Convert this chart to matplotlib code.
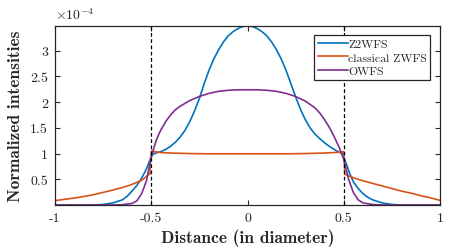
import numpy as np
import matplotlib
matplotlib.use('Agg')
import matplotlib.pyplot as plt

plt.rcParams['font.family'] = 'cmr10'
plt.rcParams['mathtext.fontset'] = 'cm'
plt.rcParams['axes.unicode_minus'] = False

# intensities in units of 1e-4
x_z2 = [-1.0, -0.8, -0.75, -0.7, -0.65, -0.625, -0.6, -0.575, -0.55, -0.525, -0.515, -0.5, -0.49,
        -0.475, -0.45, -0.425, -0.4, -0.375, -0.35, -0.325, -0.3, -0.275, -0.25, -0.225, -0.2,
        -0.175, -0.15, -0.125, -0.1, -0.075, -0.05, -0.025, 0.0,
        0.025, 0.05, 0.075, 0.1, 0.125, 0.15, 0.175, 0.2, 0.225, 0.25, 0.275, 0.3, 0.325, 0.35,
        0.375, 0.4, 0.425, 0.45, 0.475, 0.49, 0.5, 0.515, 0.53, 0.55, 0.575, 0.6, 0.625, 0.65,
        0.7, 0.75, 0.8, 1.0]
y_z2 = [0.0, 0.0, 0.01, 0.04, 0.1, 0.17, 0.27, 0.38, 0.52, 0.7, 0.8, 0.94, 0.99,
        1.01, 1.04, 1.08, 1.14, 1.22, 1.32, 1.45, 1.62, 1.83, 2.07, 2.36, 2.62,
        2.84, 3.02, 3.17, 3.29, 3.37, 3.43, 3.47, 3.48,
        3.47, 3.43, 3.37, 3.29, 3.17, 3.02, 2.84, 2.62, 2.36, 2.1, 1.86, 1.66, 1.5, 1.38,
        1.29, 1.21, 1.14, 1.08, 1.03, 1.0, 0.93, 0.78, 0.62, 0.45, 0.32, 0.22, 0.15, 0.1,
        0.04, 0.01, 0.0, 0.0]

x_zw = [-1.0, -0.95, -0.9, -0.85, -0.8, -0.75, -0.7, -0.65, -0.6, -0.55, -0.51, -0.506, -0.505,
        -0.501, -0.5, -0.49, -0.45, -0.4, -0.3, -0.2, 0.0, 0.2, 0.3, 0.4, 0.45, 0.49, 0.499,
        0.5, 0.503, 0.505, 0.51, 0.55, 0.6, 0.66, 0.7, 0.75, 0.8, 0.85, 0.9, 0.95, 1.0]
y_zw = [0.085, 0.11, 0.135, 0.165, 0.2, 0.245, 0.29, 0.34, 0.4, 0.48, 0.6, 0.61, 0.88,
        0.88, 1.05, 1.04, 1.02, 1.01, 1.0, 0.995, 0.995, 0.995, 1.0, 1.01, 1.02, 1.03, 1.04,
        0.9, 0.9, 0.6, 0.59, 0.53, 0.47, 0.41, 0.37, 0.32, 0.27, 0.23, 0.18, 0.14, 0.09]

x_ow = [-1.0, -0.7, -0.65, -0.6, -0.575, -0.55, -0.525, -0.51, -0.5, -0.49, -0.475, -0.46, -0.45,
        -0.425, -0.4, -0.375, -0.35, -0.3, -0.25, -0.2, -0.15, -0.1, -0.05, 0.0,
        0.05, 0.1, 0.15, 0.2, 0.25, 0.3, 0.35, 0.375, 0.4, 0.425, 0.45, 0.475, 0.49, 0.5, 0.51,
        0.525, 0.55, 0.575, 0.6, 0.65, 0.7, 1.0]
y_ow = [0.0, 0.0, 0.005, 0.03, 0.08, 0.22, 0.47, 0.75, 0.92, 1.06, 1.25, 1.38, 1.46,
        1.62, 1.75, 1.85, 1.92, 2.03, 2.11, 2.17, 2.21, 2.23, 2.24, 2.24,
        2.24, 2.23, 2.21, 2.17, 2.11, 2.02, 1.89, 1.79, 1.66, 1.51, 1.33, 1.13, 0.99, 0.88, 0.74,
        0.5, 0.24, 0.1, 0.04, 0.01, 0.0, 0.0]

xticks = [-1, -0.5, 0, 0.5, 1]
xticklabels = ['-1', '-0.5', '0', '0.5', '1']
yticks = [0.5, 1, 1.5, 2, 2.5, 3]
yticklabels = ['0.5', '1', '1.5', '2', '2.5', '3']

dark = '#262626'
fig = plt.figure(figsize=(4.55, 2.53), dpi=100)
ax = fig.add_axes([0.1209, 0.1858, 0.8462, 0.7075])

ax.plot(x_z2, y_z2, color='#0072BD', lw=1.2, label='Z2WFS')
ax.plot(x_zw, y_zw, color='#D95319', lw=1.2, label='classical ZWFS')
ax.plot(x_ow, y_ow, color='#7E2F8E', lw=1.2, label='OWFS')
ax.axvline(-0.5, color='k', ls='--', lw=0.9, dashes=(3, 2))
ax.axvline(0.5, color='k', ls='--', lw=0.9, dashes=(3, 2))

ax.set_xlim(-1, 1)
ax.set_ylim(0, 3.48)
ax.set_xticks(xticks)
ax.set_xticklabels(xticklabels)
ax.set_yticks(yticks)
ax.set_yticklabels(yticklabels)
ax.tick_params(direction='in', top=True, right=True, length=3.5, width=0.8,
               labelsize=10, colors=dark, pad=5)
for s in ax.spines.values():
    s.set_color(dark)
    s.set_linewidth(0.9)

ax.set_xlabel('Distance (in diameter)', fontfamily='cmb10', fontsize=12.5, labelpad=3, color=dark)
ax.set_ylabel('Normalized intensities', fontfamily='cmb10', fontsize=12.5, labelpad=5, color=dark)
ax.text(0.0, 1.02, r'$\times10^{-4}$', transform=ax.transAxes, fontsize=10, color=dark,
        ha='left', va='bottom')

leg = ax.legend(loc='upper right', bbox_to_anchor=(0.975, 0.95), fontsize=8.5, fancybox=False,
                framealpha=1, edgecolor=dark, handlelength=2.5, handletextpad=0.05,
                borderpad=0.3, labelspacing=0.3, borderaxespad=0)
leg.get_frame().set_linewidth(0.9)
for t in leg.get_texts():
    t.set_color(dark)

fig.savefig('out.png', dpi=100)
